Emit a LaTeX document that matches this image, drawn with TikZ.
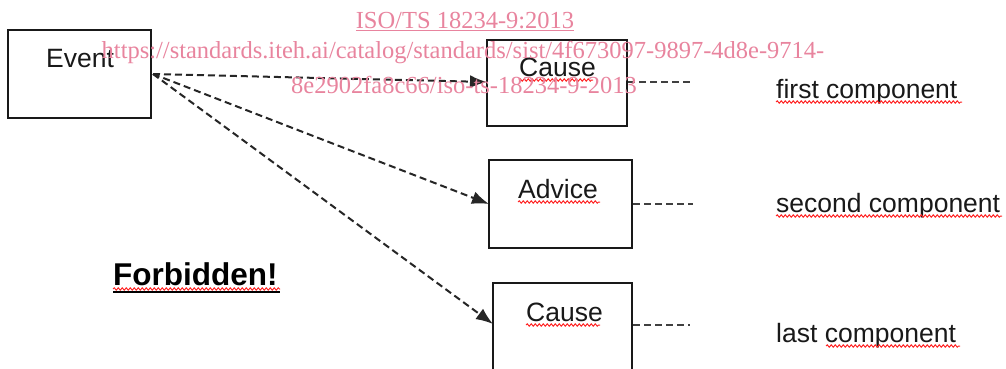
\documentclass[tikz,border=0pt]{standalone}
\usepackage{fontspec}
\setmainfont{Liberation Sans}
\newfontfamily\wmfont{Liberation Serif}
\usetikzlibrary{arrows.meta,decorations.pathmorphing}
\definecolor{wmpink}{HTML}{E8849E}
\tikzset{
  box/.style={draw=black!90,line width=2pt},
  lbl/.style={inner sep=0pt,anchor=base west,font=\fontsize{26.5}{30}\selectfont,text=black!90},
  wm/.style={inner sep=0pt,anchor=base,font=\wmfont\fontsize{24.5}{28}\selectfont,text=wmpink},
  conn/.style={draw=black!85,line width=2pt,dash pattern=on 7pt off 4pt,-{Latex[length=17pt,width=13pt]}},
  stub/.style={draw=black!75,line width=2pt,dash pattern=on 7pt off 4pt},
  squig/.style={draw=red!85,line width=1pt,decorate,decoration={snake,amplitude=1.2pt,segment length=4pt}}
}
\begin{document}
\begin{tikzpicture}[x=1pt,y=-1pt]
\useasboundingbox (0,0) rectangle (1006,368);
% boxes
\draw[box] (8,30) rectangle (151,118);
\coordinate (ev) at (153,74);
\draw[box] (487,40) rectangle (627,126);
\coordinate (c1l) at (487,82); \coordinate (c1r) at (628,82); \coordinate (c1e) at (690,82);
\draw[box] (489,160) rectangle (632,248);
\coordinate (adl) at (489,204); \coordinate (adr) at (633,204); \coordinate (ade) at (693,204);
\draw[box] (493,283) rectangle (632,372);
\coordinate (c2l) at (493,324); \coordinate (c2r) at (633,325); \coordinate (c2e) at (690,325);
% texts
\node[lbl] (tev) at (46,67) {Event};
\node[lbl] (tc1) at (519,76) {Cause};
\node[lbl] (tad) at (518,198) {Advice};
\node[lbl] (tc2) at (526,321) {Cause};
\node[lbl] (t1) at (776,98) {first component};
\node[lbl] (t2) at (776,212) {second component};
\node[lbl] (t3) at (776,342) {last component};
\node[lbl,font=\bfseries\fontsize{31.5}{35}\selectfont,text=black] (tf) at (113,285) {Forbidden!};
% connectors
\draw[conn] (ev) -- (c1l);
\draw[conn] (ev) -- (adl);
\draw[conn] (ev) -- (c2l);
\draw[stub] (c1r) -- (c1e);
\draw[stub] (adr) -- (ade);
\draw[stub] (c2r) -- (c2e);
% spell-check squiggles and underline
\draw[squig] (tc1.base west)++(0,4) -- ++(74,0);
\draw[squig] (tad.base west)++(0,4) -- ++(82,0);
\draw[squig] (tc2.base west)++(0,4) -- ++(74,0);
\draw[squig] (t1.base west)++(0,4) -- ++(186,0);
\draw[squig] (t2.base west)++(0,4) -- ++(226,0);
\draw[squig] (t3.base west)++(50,4) -- ++(134,0);
\draw[squig] (tf.base west)++(0,4) -- ++(167,0);
\draw[black,line width=1.8pt] (tf.base west)++(0,7) -- ++(167,0);
% watermark
\node[wm] (w1) at (465,28) {\underline{ISO/TS 18234-9:2013}};
\node[wm] (w2) at (463,58) {https://standards.iteh.ai/catalog/standards/sist/4f673097-9897-4d8e-9714-};
\node[wm] (w3) at (464,93) {8e2902fa8c66/iso-ts-18234-9-2013};
\end{tikzpicture}
\end{document}
